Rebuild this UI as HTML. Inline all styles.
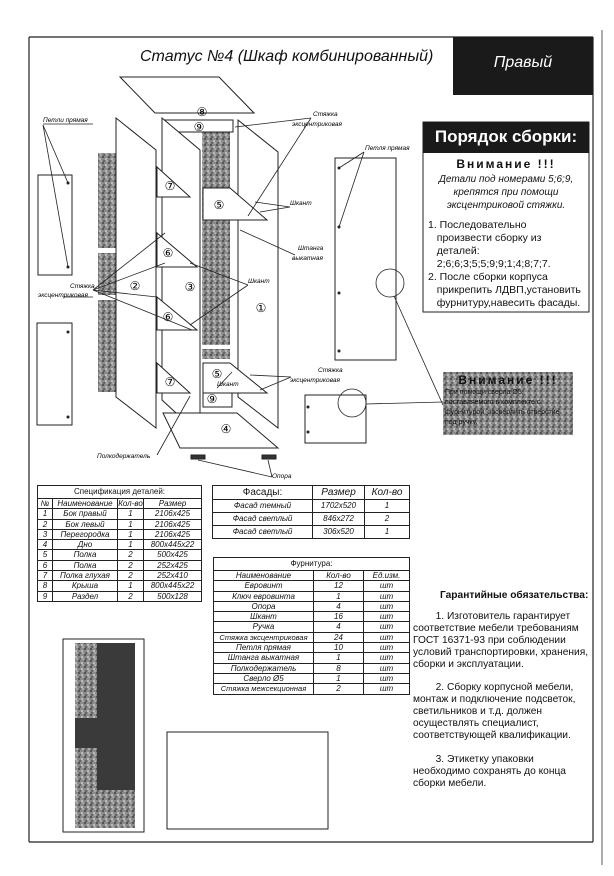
<!DOCTYPE html>
<html><head><meta charset="utf-8">
<style>
body{margin:0;width:614px;height:876px;background:#fff;position:relative;overflow:hidden;font-family:"Liberation Sans",sans-serif;color:#111}
.a{position:absolute}
table{border-collapse:collapse;position:absolute;font-style:italic;font-size:8px;text-align:center;table-layout:fixed}
td{border:1px solid #222;padding:0;line-height:9.3px;white-space:nowrap;overflow:hidden}
.g{font-size:10.2px;line-height:12px;white-space:nowrap}
</style></head><body>
<svg class="a" style="left:0;top:0" width="614" height="876">
<defs>
<pattern id="n" width="6" height="6" patternUnits="userSpaceOnUse">
<rect width="6" height="6" fill="#8a8a8a"/><rect x="0" y="0" width="2" height="2" fill="#555"/><rect x="3" y="2" width="2" height="2" fill="#bbb"/><rect x="1" y="4" width="2" height="2" fill="#666"/><rect x="4" y="4" width="2" height="2" fill="#a8a8a8"/>
</pattern>
</defs>
<g stroke="#222" fill="none" stroke-width="1.2">
<line x1="29" y1="37" x2="593" y2="37"/>
<line x1="29" y1="37" x2="29" y2="842"/>
<line x1="593" y1="37" x2="593" y2="842"/>
<line x1="29" y1="842" x2="593" y2="842"/>
<line x1="602" y1="30" x2="602" y2="865" stroke="#777"/>
</g>
<rect x="453" y="37" width="140" height="58" fill="#1a1a1a"/>
<rect x="98" y="153" width="18" height="95" fill="url(#n)"/>
<rect x="98" y="253" width="18" height="42" fill="url(#n)"/>
<rect x="98" y="300" width="18" height="92" fill="url(#n)"/>
<rect x="202" y="132" width="28" height="213" fill="url(#n)"/>
<rect x="202" y="349" width="28" height="10" fill="url(#n)"/>
<g stroke="#222" stroke-width="1" fill="#fff">
<polygon points="120,77 219,77 254,113 155,113"/>
<polygon points="238,120 278,152 278,428 238,397"/>
<polygon points="163,120 233,120 233,132 163,132"/>
<polygon points="162,118 200,150 200,435 162,400"/>
<polygon points="163,413 237,413 278,448 180,448"/>
<polygon points="157,167 190,197 157,197"/>
<polygon points="203,188 230,188 267,220 203,220"/>
<polygon points="157,233 197,267 157,267"/>
<polygon points="157,297 197,330 157,330"/>
<polygon points="157,363 190,393 157,393"/>
<polygon points="203,363 230,363 267,393 203,393"/>
<rect x="203" y="393" width="29" height="14"/>
<polygon points="116,118 156,150 156,428 116,397"/>
<rect x="38" y="175" width="34" height="100"/>
<rect x="37" y="323" width="35" height="102"/>
<rect x="335" y="158" width="61" height="202"/>
<rect x="305" y="395" width="61" height="48"/>
</g>
<g fill="#fff" stroke="#222"><rect x="191" y="455" width="14" height="4" fill="#333"/><rect x="262" y="455" width="14" height="4" fill="#333"/></g>
<g fill="#222"><circle cx="68" cy="183" r="1.5"/><circle cx="68" cy="267" r="1.5"/><circle cx="68" cy="332" r="1.5"/><circle cx="68" cy="417" r="1.5"/><circle cx="339" cy="168" r="1.5"/><circle cx="339" cy="227" r="1.5"/><circle cx="339" cy="293" r="1.5"/><circle cx="339" cy="351" r="1.5"/><circle cx="308" cy="407" r="1.5"/><circle cx="308" cy="432" r="1.5"/></g>
<g fill="none" stroke="#222" stroke-width="0.8">
<circle cx="390" cy="283" r="14"/><circle cx="352" cy="403" r="14"/>
<line x1="394" y1="296" x2="443" y2="405"/><line x1="366" y1="404" x2="443" y2="402"/>
<line x1="43" y1="125" x2="68" y2="183"/><line x1="43" y1="125" x2="68" y2="267"/>
<line x1="364" y1="152" x2="339" y2="168"/><line x1="364" y1="152" x2="339" y2="227"/>
<line x1="311" y1="118" x2="235" y2="127"/><line x1="311" y1="118" x2="248" y2="216"/>
<line x1="290" y1="207" x2="255" y2="202"/><line x1="290" y1="207" x2="260" y2="212"/>
<line x1="295" y1="255" x2="240" y2="230"/>
<line x1="248" y1="285" x2="190" y2="263"/><line x1="248" y1="285" x2="190" y2="325"/>
<line x1="93" y1="290" x2="165" y2="233"/><line x1="93" y1="290" x2="165" y2="263"/><line x1="93" y1="290" x2="157" y2="297"/><line x1="93" y1="290" x2="192" y2="330"/>
<line x1="291" y1="377" x2="250" y2="375"/><line x1="291" y1="377" x2="260" y2="390"/>
<line x1="217" y1="388" x2="232" y2="372"/>
<line x1="157" y1="455" x2="190" y2="396"/>
<line x1="272" y1="477" x2="198" y2="460"/><line x1="272" y1="477" x2="268" y2="460"/>
<line x1="43" y1="124" x2="93" y2="124"/><line x1="63" y1="297" x2="93" y2="297"/>
</g>
<g font-family="Liberation Sans,sans-serif" font-size="12" text-anchor="middle">
<text x="202" y="116">⑧</text><text x="199" y="131">⑨</text><text x="170" y="190">⑦</text><text x="219" y="209">⑤</text>
<text x="168" y="257">⑥</text><text x="135" y="290">②</text><text x="190" y="291">③</text><text x="168" y="321">⑥</text>
<text x="261" y="312">①</text><text x="170" y="386">⑦</text><text x="217" y="378">⑤</text><text x="212" y="403">⑨</text><text x="226" y="433">④</text>
</g>
<g font-family="Liberation Sans,sans-serif" font-size="6.5" font-style="italic">
<text x="43" y="122">Петли прямая</text><text x="313" y="116">Стяжка</text><text x="292" y="126">эксцентриковая</text>
<text x="290" y="205">Шкант</text><text x="298" y="250">Штанга</text><text x="292" y="260">выкатная</text>
<text x="248" y="283">Шкант</text><text x="70" y="288">Стяжка</text><text x="38" y="297">эксцентриковая</text>
<text x="365" y="150">Петля прямая</text><text x="318" y="372">Стяжка</text><text x="290" y="382">эксцентриковая</text>
<text x="217" y="386">Шкант</text><text x="97" y="458">Полкодержатель</text><text x="272" y="478">Опора</text>
</g>
<rect x="423" y="122" width="166" height="190" fill="#fff" stroke="#222"/>
<rect x="423" y="122" width="166" height="31" fill="#1a1a1a"/>
<rect x="443" y="372" width="130" height="63" fill="url(#n)"/>
<rect x="63" y="639" width="81" height="193" fill="#fff" stroke="#222"/>
<rect x="75" y="643" width="60" height="185" fill="#3a3a3a"/>
<rect x="75" y="643" width="22" height="75" fill="url(#n)"/>
<rect x="75" y="748" width="22" height="80" fill="url(#n)"/>
<rect x="97" y="790" width="38" height="38" fill="url(#n)"/>
<rect x="167" y="732" width="161" height="97" fill="#fff" stroke="#222"/>
</svg>
<div class="a" style="left:140px;top:48px;font-size:16px;font-style:italic">Статус №4 (Шкаф комбинированный)</div>
<div class="a" style="left:453px;top:54px;width:140px;text-align:center;color:#fff;font-size:16px;font-style:italic">Правый</div>
<div class="a" style="left:423px;top:127px;width:166px;text-align:center;color:#fff;font-size:17px;font-weight:bold">Порядок сборки:</div>
<div class="a" style="left:423px;top:157px;width:166px;text-align:center;font-size:12px;font-weight:bold;letter-spacing:2px">Внимание !!!</div>
<div class="a" style="left:423px;top:173px;width:166px;text-align:center;font-size:10px;font-style:italic;line-height:13px">Детали под номерами 5;6;9,<br>крепятся при помощи<br>эксцентриковой стяжки.</div>
<div class="a" style="left:428px;top:219px;width:162px;font-size:10.5px;line-height:13px">1. Последовательно<br>&nbsp;&nbsp;&nbsp;произвести сборку из<br>&nbsp;&nbsp;&nbsp;деталей:<br>&nbsp;&nbsp;&nbsp;2;6;6;3;5;5;9;9;1;4;8;7;7.<br>2. После сборки корпуса<br>&nbsp;&nbsp;&nbsp;прикрепить ЛДВП,установить<br>&nbsp;&nbsp;&nbsp;фурнитуру,навесить фасады.</div>
<div class="a" style="left:443px;top:373px;width:130px;text-align:center;font-size:12px;font-weight:bold;letter-spacing:2px;color:#111">Внимание !!!</div>
<div class="a" style="left:445px;top:388px;width:128px;font-size:7px;line-height:10px;color:#111">При помощи сверла Ø5,<br>поставляемого в комплекте с<br>фурнитурой, засверлить отверстие<br>под ручку.</div>
<table style="left:37px;top:485px;width:165px">
<col style="width:15px"><col style="width:65px"><col style="width:26px"><col>
<tr><td colspan="4" style="font-style:normal;line-height:12px">Спецификация деталей:</td></tr>
<tr><td>№</td><td>Наименование</td><td>Кол-во</td><td>Размер</td></tr>
<tr><td>1</td><td>Бок правый</td><td>1</td><td>2106x425</td></tr>
<tr><td>2</td><td>Бок левый</td><td>1</td><td>2106x425</td></tr>
<tr><td>3</td><td>Перегородка</td><td>1</td><td>2106x425</td></tr>
<tr><td>4</td><td>Дно</td><td>1</td><td>800x445x22</td></tr>
<tr><td>5</td><td>Полка</td><td>2</td><td>500x425</td></tr>
<tr><td>6</td><td>Полка</td><td>2</td><td>252x425</td></tr>
<tr><td>7</td><td>Полка глухая</td><td>2</td><td>252x410</td></tr>
<tr><td>8</td><td>Крыша</td><td>1</td><td>800x445x22</td></tr>
<tr><td>9</td><td>Раздел</td><td>2</td><td>500x128</td></tr>
</table>
<table style="left:212px;top:485px;width:198px">
<col style="width:100px"><col style="width:52px"><col>
<tr style="font-size:10px"><td style="line-height:13px;font-style:normal">Фасады:</td><td>Размер</td><td>Кол-во</td></tr>
<tr><td style="line-height:12px">Фасад темный</td><td>1702x520</td><td>1</td></tr>
<tr><td style="line-height:12px">Фасад светлый</td><td>846x272</td><td>2</td></tr>
<tr><td style="line-height:12px">Фасад светлый</td><td>306x520</td><td>1</td></tr>
</table>
<table style="left:213px;top:557px;width:197px">
<col style="width:100px"><col style="width:50px"><col>
<tr><td colspan="3" style="font-style:normal;line-height:12px">Фурнитура:</td></tr>
<tr><td>Наименование</td><td>Кол-во</td><td>Ед.изм.</td></tr>
<tr><td>Евровинт</td><td>12</td><td>шт</td></tr>
<tr><td>Ключ евровинта</td><td>1</td><td>шт</td></tr>
<tr><td>Опора</td><td>4</td><td>шт</td></tr>
<tr><td>Шкант</td><td>16</td><td>шт</td></tr>
<tr><td>Ручка</td><td>4</td><td>шт</td></tr>
<tr><td style="font-size:7.5px">Стяжка эксцентриковая</td><td>24</td><td>шт</td></tr>
<tr><td>Петля прямая</td><td>10</td><td>шт</td></tr>
<tr><td>Штанга выкатная</td><td>1</td><td>шт</td></tr>
<tr><td>Полкодержатель</td><td>8</td><td>шт</td></tr>
<tr><td>Сверло Ø5</td><td>1</td><td>шт</td></tr>
<tr><td style="font-size:7.5px">Стяжка межсекционная</td><td>2</td><td>шт</td></tr>
</table>
<div class="a g" style="left:440px;top:590px;font-weight:bold">Гарантийные обязательства:</div>
<div class="a g" style="left:413px;top:611px">&nbsp;&nbsp;&nbsp;&nbsp;&nbsp;&nbsp;&nbsp;&nbsp;1. Изготовитель гарантирует<br>соответствие мебели требованиям<br>ГОСТ 16371-93 при соблюдении<br>условий транспортировки, хранения,<br>сборки и эксплуатации.</div>
<div class="a g" style="left:413px;top:682px">&nbsp;&nbsp;&nbsp;&nbsp;&nbsp;&nbsp;&nbsp;&nbsp;2. Сборку корпусной мебели,<br>монтаж и подключение подсветок,<br>светильников и т.д. должен<br>осуществлять специалист,<br>соответствующей квалификации.</div>
<div class="a g" style="left:413px;top:754px">&nbsp;&nbsp;&nbsp;&nbsp;&nbsp;&nbsp;&nbsp;&nbsp;3. Этикетку упаковки<br>необходимо сохранять до конца<br>сборки мебели.</div>
</body></html>
